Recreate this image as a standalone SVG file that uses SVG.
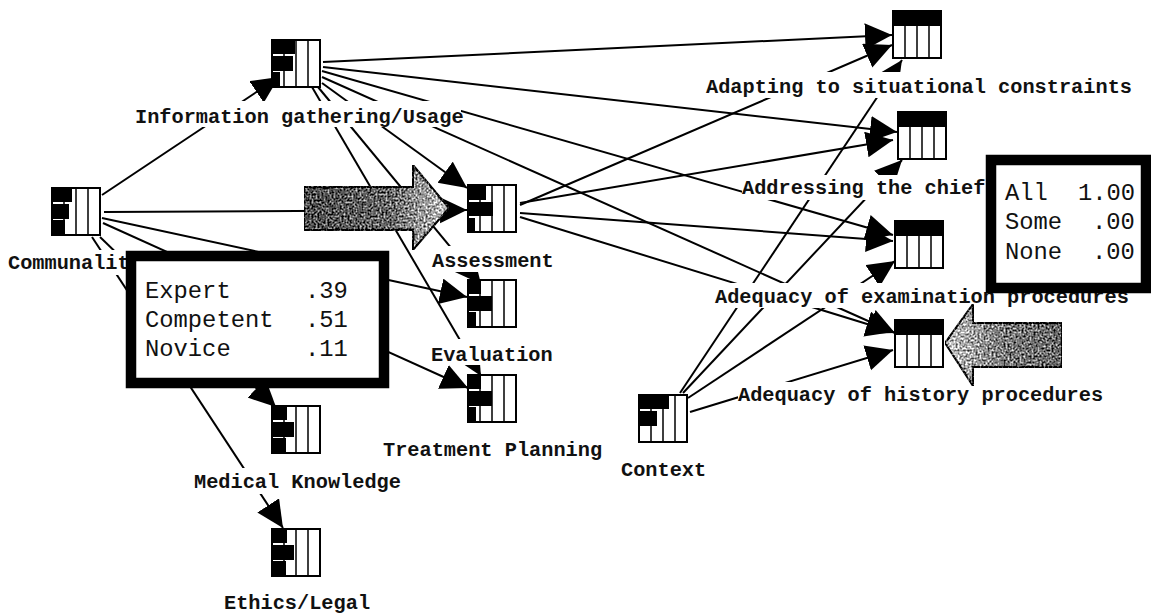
<svg xmlns="http://www.w3.org/2000/svg" width="1151" height="614" viewBox="0 0 1151 614">
<style>
.c{stroke:#000;stroke-width:2;fill:none;marker-end:url(#h)}
.lb{fill:#fff}
.t{font-family:"Liberation Mono",monospace;font-size:20.3px;font-weight:bold;fill:#111}
.p{font-family:"Liberation Mono",monospace;font-size:23.8px;fill:#111}
.box{fill:#fff;stroke:#000;stroke-width:2}
.div{stroke:#000;stroke-width:1.5}
.bar{fill:#000}
.pop{fill:#fff;stroke:#000;stroke-width:10.5}
.gr{fill:url(#g);stroke:#000;stroke-width:2;filter:url(#n)}
</style>
<defs>
<marker id="h" markerUnits="userSpaceOnUse" markerWidth="30" markerHeight="28" refX="27" refY="13" orient="auto"><path d="M0 0L27 13L0 26Z" fill="#000"/></marker>
<linearGradient id="g" gradientUnits="objectBoundingBox" x1="0" x2="1" y1="0" y2="0"><stop offset="0" stop-color="#4a4a4a"/><stop offset="0.6" stop-color="#666"/><stop offset="1" stop-color="#c4c4c4"/></linearGradient>
<linearGradient id="g2" x1="1" x2="0" y1="0" y2="0"><stop offset="0" stop-color="#666"/><stop offset="0.5" stop-color="#777"/><stop offset="1" stop-color="#c8c8c8"/></linearGradient>
<filter id="n" x="0" y="0" width="1" height="1" color-interpolation-filters="sRGB">
<feTurbulence type="fractalNoise" baseFrequency="0.5" numOctaves="2" seed="4" result="t"/>
<feColorMatrix in="t" type="matrix" values="1 0 0 0 0 1 0 0 0 0 1 0 0 0 0 0 0 0 0 1" result="m"/>
<feComposite in="SourceGraphic" in2="m" operator="arithmetic" k1="0" k2="1" k3="1.7" k4="-0.85" result="a"/>
<feComposite in="a" in2="SourceAlpha" operator="in"/>
</filter>
<g id="grid"><rect class="box" width="48" height="47"/><path class="div" d="M12 0V47M24 0V47M36 0V47"/></g>
<g id="out"><use href="#grid"/><rect class="bar" x="-1" y="-1" width="50" height="16"/></g>
</defs>
<g id="connectors">
<path class="c" d="M102 195L279 77"/>
<path class="c" d="M104 212L467 210"/>
<path class="c" d="M102 218L467 297"/>
<path class="c" d="M103 223L468 388"/>
<path class="c" d="M100 237L276 407"/>
<path class="c" d="M92 237L283 528"/>
<path class="c" d="M323 62L892 35"/>
<path class="c" d="M323 67L897 132"/>
<path class="c" d="M322 71L893 235"/>
<path class="c" d="M322 77L895 333"/>
<path class="c" d="M322 83L467 188"/>
<path class="c" d="M318 87L481 284"/>
<path class="c" d="M312 87L481 376"/>
<path class="c" d="M520 205L892 45"/>
<path class="c" d="M520 203L893 140"/>
<path class="c" d="M520 213L893 241"/>
<path class="c" d="M520 217L893 332"/>
<path class="c" d="M680 393L902 60"/>
<path class="c" d="M683 393L902 160"/>
<path class="c" d="M688 398L895 261"/>
<path class="c" d="M690 412L893 350"/>
</g>
<g id="labels">
<rect class="lb" x="135" y="101" width="326" height="26"/><text class="t" x="135" y="123">Information gathering/Usage</text>
<rect class="lb" x="8" y="250" width="130" height="25"/><text class="t" x="8" y="269">Communalit</text>
<rect class="lb" x="432" y="246" width="122" height="26"/><text class="t" x="432" y="267">Assessment</text>
<rect class="lb" x="431" y="339" width="124" height="26"/><text class="t" x="431" y="361">Evaluation</text>
<rect class="lb" x="383" y="434" width="222" height="26"/><text class="t" x="383" y="456">Treatment Planning</text>
<rect class="lb" x="194" y="468" width="206" height="26"/><text class="t" x="194" y="488">Medical Knowledge</text>
<text class="t" x="224" y="609">Ethics/Legal</text>
<text class="t" x="621" y="476">Context</text>
<rect class="lb" x="706" y="72" width="428" height="26"/><text class="t" x="706" y="93">Adapting to situational constraints</text>
<rect class="lb" x="742" y="175" width="244" height="25"/><text class="t" x="742" y="194">Addressing the chief</text>
<rect class="lb" x="715" y="283" width="414" height="25"/><text class="t" x="715" y="303">Adequacy of examination procedures</text>
<rect class="lb" x="738" y="382" width="366" height="26"/><text class="t" x="738" y="401">Adequacy of history procedures</text>
</g>
<g id="n-info" transform="translate(272,40)"><use href="#grid"/><rect class="bar" width="23" height="14"/><rect class="bar" y="16" width="21" height="15"/><rect class="bar" y="32" width="8" height="15"/></g>
<g id="n-comm" transform="translate(52,188)"><use href="#grid"/><rect class="bar" width="20" height="14"/><rect class="bar" y="16" width="17" height="15"/><rect class="bar" y="32" width="13" height="15"/></g>
<g id="n-assess" transform="translate(468,185)"><use href="#grid"/><rect class="bar" width="18" height="15"/><rect class="bar" y="17" width="25" height="14"/><rect class="bar" y="33" width="7" height="14"/></g>
<g id="n-eval" transform="translate(468,280)"><use href="#grid"/><rect class="bar" width="13" height="14"/><rect class="bar" y="16" width="24" height="15"/><rect class="bar" y="32" width="8" height="15"/></g>
<g id="n-treat" transform="translate(468,375)"><use href="#grid"/><rect class="bar" width="13" height="14"/><rect class="bar" y="16" width="24" height="15"/><rect class="bar" y="32" width="8" height="15"/></g>
<g id="n-med" transform="translate(272,406)"><use href="#grid"/><rect class="bar" width="15" height="14"/><rect class="bar" y="16" width="22" height="15"/><rect class="bar" y="32" width="14" height="15"/></g>
<g id="n-eth" transform="translate(272,529)"><use href="#grid"/><rect class="bar" width="15" height="14"/><rect class="bar" y="16" width="22" height="15"/><rect class="bar" y="32" width="14" height="15"/></g>
<g id="n-ctx" transform="translate(639,395)"><use href="#grid"/><rect class="bar" width="30" height="14"/><rect class="bar" y="16" width="18" height="15"/></g>
<use id="n-adapt" href="#out" x="893" y="11"/>
<use id="n-addr" href="#out" x="898" y="112"/>
<use id="n-exam" href="#out" x="895" y="221"/>
<use id="n-hist" href="#out" x="895" y="320"/>
<g id="arrows">
<path class="gr" d="M304 187H413V165L449 208L413 250V230H304Z"/>
<path class="gr" style="fill:url(#g2)" d="M1062 323H973V304L945 343L973 386V367H1062Z"/>
</g>
<g id="popup-left"><rect class="pop" x="131" y="256" width="253" height="127"/>
<text class="p" x="145" y="298">Expert</text><text class="p" x="305" y="298">.39</text>
<text class="p" x="145" y="327">Competent</text><text class="p" x="305" y="327">.51</text>
<text class="p" x="145" y="356">Novice</text><text class="p" x="305" y="356">.11</text></g>
<g id="popup-right"><rect class="pop" x="991" y="160" width="155" height="128"/>
<text class="p" x="1005" y="200">All</text><text class="p" x="1078" y="200">1.00</text>
<text class="p" x="1005" y="229">Some</text><text class="p" x="1092" y="229">.00</text>
<text class="p" x="1005" y="259">None</text><text class="p" x="1092" y="259">.00</text></g>
</svg>
